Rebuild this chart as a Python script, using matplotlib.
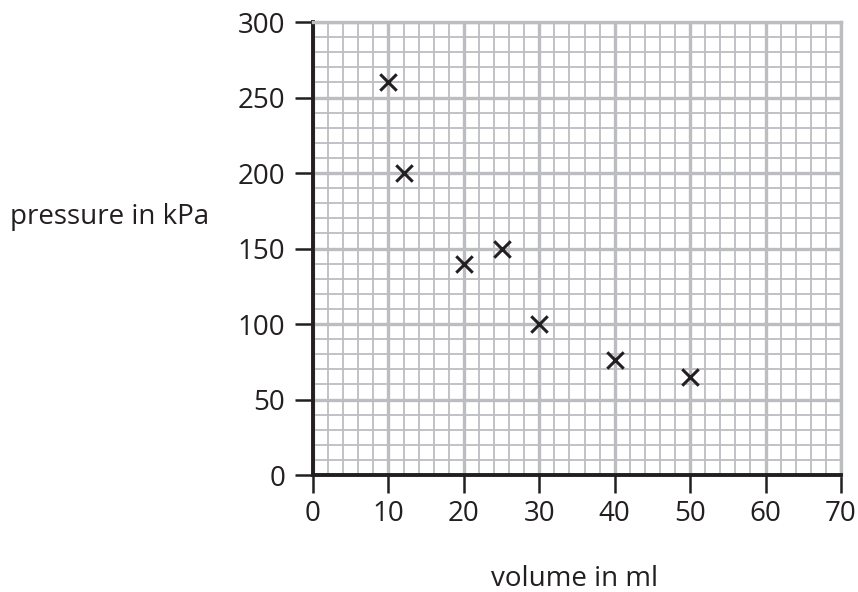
import matplotlib.pyplot as plt
from matplotlib.ticker import MultipleLocator

# data
volume = [10, 12, 20, 25, 30, 40, 50]
pressure = [260, 200, 140, 150, 100, 76, 65]
x_ticks = [0, 10, 20, 30, 40, 50, 60, 70]
y_ticks = [0, 50, 100, 150, 200, 250, 300]

plt.rcParams['font.family'] = ['Open Sans', 'DejaVu Sans']

fig = plt.figure(figsize=(8.58, 5.92), dpi=100)
ax = fig.add_axes([0.3648, 0.1976, 0.9802 - 0.3648, 0.9628 - 0.1976])

grid_col = '#bcbdc0'
ink = '#231f20'
ax.set_xlim(0, 70)
ax.set_ylim(0, 300)
ax.set_xticks(x_ticks)
ax.set_yticks(y_ticks)
ax.xaxis.set_minor_locator(MultipleLocator(2))
ax.yaxis.set_minor_locator(MultipleLocator(10))
ax.grid(which='major', color=grid_col, linewidth=2.4)
ax.grid(which='minor', color=grid_col, linewidth=1.3)
ax.set_axisbelow(True)

ax.tick_params(which='minor', length=0)
ax.tick_params(which='major', direction='out', length=13, width=1.8,
               color=ink, labelsize=20, labelcolor=ink)
ax.tick_params(axis='y', pad=7)
ax.tick_params(axis='x', pad=5)

for s in ['left', 'bottom']:
    ax.spines[s].set_linewidth(2.8)
    ax.spines[s].set_color(ink)
for s in ['top', 'right']:
    ax.spines[s].set_linewidth(2.4)
    ax.spines[s].set_color(grid_col)

ax.scatter(volume, pressure, marker='x', s=140, color=ink,
           linewidths=2.2, zorder=5, clip_on=False)

fig.text(0.128, 0.634, 'pressure in kPa', fontsize=20, color=ink,
         ha='center', va='center')
fig.text(0.670, 0.022, 'volume in ml', fontsize=20, color=ink,
         ha='center', va='center')

fig.savefig('out.png', dpi=100)
